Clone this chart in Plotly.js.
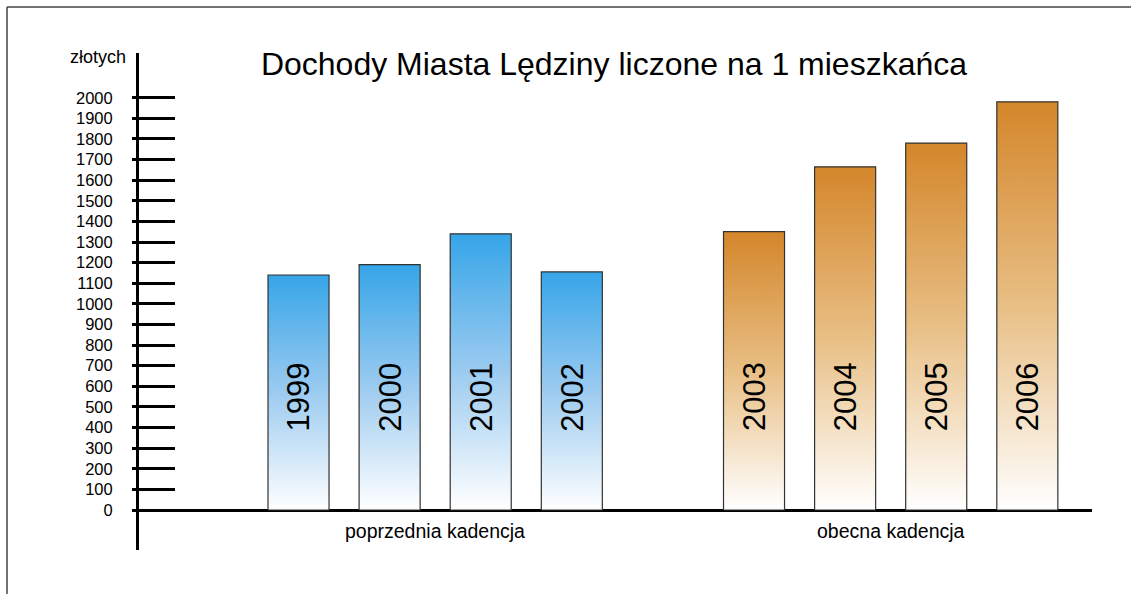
<!DOCTYPE html>
<html>
<head>
<meta charset="utf-8">
<script src="https://cdn.plot.ly/plotly-3.0.1.min.js"></script>
<style>
html,body{margin:0;padding:0;background:#fff;}
#chart{width:1131px;height:594px;}
</style>
</head>
<body>
<div id="chart"></div>
<script>
// ---- data ----
const yearsPrev = ['1999', '2000', '2001', '2002'];
const valuesPrev = [1140, 1190, 1340, 1155];
const yearsCurr = ['2003', '2004', '2005', '2006'];
const valuesCurr = [1350, 1665, 1780, 1980];
const groupLabels = ['poprzednia kadencja', 'obecna kadencja'];
const tickValues = [0,100,200,300,400,500,600,700,800,900,1000,1100,1200,1300,1400,1500,1600,1700,1800,1900,2000];
const titleText = 'Dochody Miasta Lędziny liczone na 1 mieszkańca';
const unitLabel = 'złotych';

// ---- layout helpers ----
const FONT = 'Liberation Sans, Arial, sans-serif';
const halfW = 0.335;
const posPrev = yearsPrev.map((_, i) => i);
const posCurr = yearsCurr.map((_, i) => i + yearsPrev.length + 1);

function barTraces(pos, vals, color, yaxis) {
  return pos.map((x, i) => ({
    type: 'scatter',
    mode: 'lines',
    x: [x - halfW, x + halfW, x + halfW, x - halfW, x - halfW],
    y: [0, 0, vals[i], vals[i], 0],
    fill: 'toself',
    fillgradient: {
      type: 'vertical',
      colorscale: [[0, '#ffffff'], [0.5, color[1]], [1, color[0]]]
    },
    line: {color: '#333333', width: 1.2},
    yaxis: yaxis,
    hoverinfo: 'skip',
    showlegend: false
  }));
}

const traces = [
  ...barTraces(posPrev, valuesPrev, ['#36a5e8', '#9ccbf0'], 'y'),
  ...barTraces(posCurr, valuesCurr, ['#d4862a', '#e8bf85'], 'y2')
];

const yRange = [-194, 2217];

const annotations = [];
yearsPrev.concat(yearsCurr).forEach((yr, i) => {
  const x = posPrev.concat(posCurr)[i];
  annotations.push({
    x: x, y: 548, xref: 'x', yref: 'y', text: yr, showarrow: false,
    textangle: -90, font: {family: FONT, size: 31, color: '#000'}
  });
});
const meanPos = a => a.reduce((s, v) => s + v, 0) / a.length;
annotations.push({
  x: meanPos(posPrev), y: -102, xref: 'x', yref: 'y', text: groupLabels[0],
  showarrow: false, font: {family: FONT, size: 19.5, color: '#000'}
});
annotations.push({
  x: meanPos(posCurr), y: -102, xref: 'x', yref: 'y', text: groupLabels[1],
  showarrow: false, font: {family: FONT, size: 19.5, color: '#000'}
});
annotations.push({
  x: -0.0115, y: 0.992, xref: 'paper', yref: 'paper', text: unitLabel,
  xanchor: 'right', yanchor: 'middle', showarrow: false,
  font: {family: FONT, size: 18, color: '#000'}
});

const layout = {
  width: 1131, height: 594,
  margin: {l: 139, r: 39, t: 53, b: 44, pad: 0},
  paper_bgcolor: '#ffffff', plot_bgcolor: '#ffffff',
  showlegend: false,
  title: {
    text: titleText, xref: 'paper', x: 0.4984, xanchor: 'center',
    yref: 'container', y: 1 - 64/594, yanchor: 'middle',
    font: {family: FONT, size: 32, color: '#000'}
  },
  xaxis: {
    range: [-1.751, 8.71], showgrid: false, zeroline: false, showline: false,
    ticks: '', showticklabels: false, fixedrange: true
  },
  yaxis: {
    range: yRange, tickvals: tickValues, ticks: 'inside', ticklen: 36, tickwidth: 3,
    tickcolor: '#000', showticklabels: false, showgrid: false,
    showline: true, linecolor: '#000', linewidth: 3,
    zeroline: true, zerolinecolor: '#000', zerolinewidth: 3, fixedrange: true
  },
  yaxis2: {
    overlaying: 'y', side: 'left', range: yRange, tickvals: tickValues,
    ticks: 'outside', ticklen: 6, tickwidth: 3, tickcolor: '#000',
    ticklabelstandoff: 16,
    tickfont: {family: FONT, size: 16.5, color: '#000'},
    showgrid: false, showline: false, zeroline: false, fixedrange: true
  },
  annotations: annotations,
  shapes: [
    {type: 'line', xref: 'paper', yref: 'paper', x0: -0.1385, x1: 1.05, y0: 1.0926, y1: 1.0926,
     line: {color: '#444', width: 1.5}},
    {type: 'line', xref: 'paper', yref: 'paper', x0: -0.1385, x1: -0.1385, y0: -0.1, y1: 1.0926,
     line: {color: '#444', width: 1.5}}
  ]
};

Plotly.newPlot('chart', traces, layout, {displayModeBar: false, staticPlot: true});
</script>
</body>
</html>
